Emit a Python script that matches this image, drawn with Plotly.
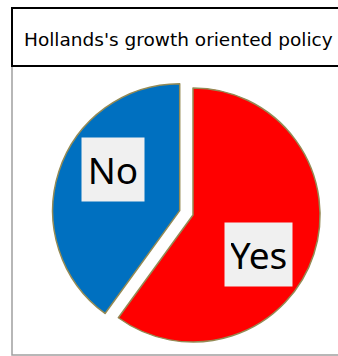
import plotly.graph_objects as go

labels = ["Yes", "No"]
values = [60, 40]
colors = ["#FF0000", "#0070C0"]
pulls = [0, 0.11]
title_text = "Hollands's growth oriented policy"

W, H = 338, 356

def px(x):
    return x / W

def py(y):
    return 1 - y / H

fig = go.Figure()
fig.add_trace(go.Pie(
    labels=labels,
    values=values,
    marker=dict(colors=colors, line=dict(color="#948A54", width=1.5)),
    pull=pulls,
    sort=False,
    direction="clockwise",
    rotation=0,
    textinfo="none",
    hoverinfo="label+percent",
    showlegend=False,
    domain=dict(x=[px(52), px(334)], y=[py(356), py(74)]),
))

shapes = [
    dict(type="rect", xref="paper", yref="paper",
         x0=px(12), x1=px(345), y0=py(66), y1=py(355),
         line=dict(color="#A0A0A0", width=1.5), fillcolor="rgba(0,0,0,0)", layer="below"),
    dict(type="rect", xref="paper", yref="paper",
         x0=px(12), x1=px(345), y0=py(66), y1=py(8),
         line=dict(color="#000000", width=2), fillcolor="rgba(0,0,0,0)"),
]

annotations = [
    dict(text=title_text, xref="paper", yref="paper", x=px(22), y=py(39),
         xanchor="left", yanchor="middle", showarrow=False,
         font=dict(family="DejaVu Sans", size=18.5, color="#000000")),
    dict(text=labels[1], xref="paper", yref="paper", x=px(113), y=py(169),
         xanchor="center", yanchor="middle", showarrow=False,
         bgcolor="#F0F0F0", borderpad=6, width=50,
         font=dict(family="Noto Sans", size=37, color="#000000")),
    dict(text=labels[0], xref="paper", yref="paper", x=px(258), y=py(254),
         xanchor="center", yanchor="middle", showarrow=False,
         bgcolor="#F0F0F0", borderpad=6, width=55,
         font=dict(family="Noto Sans", size=37, color="#000000")),
]

fig.update_layout(
    width=W, height=H,
    margin=dict(l=0, r=0, t=0, b=0),
    paper_bgcolor="#FFFFFF",
    plot_bgcolor="#FFFFFF",
    shapes=shapes,
    annotations=annotations,
)

fig.write_html("out.html")
